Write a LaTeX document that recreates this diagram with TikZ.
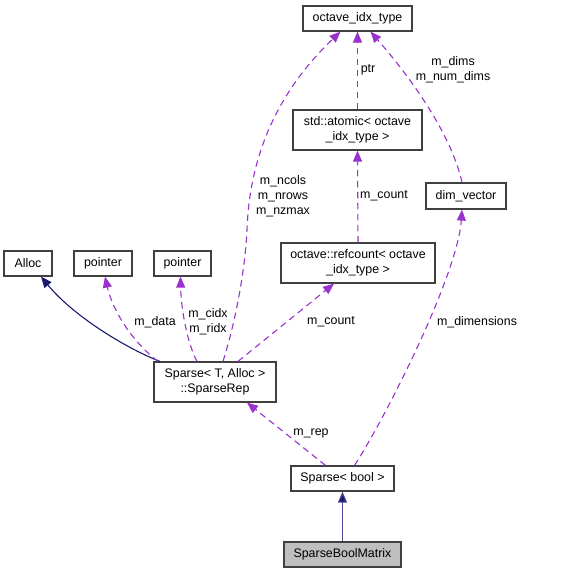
\documentclass[tikz,border=0pt]{standalone}
\usepackage{fontspec}
\setmainfont{Liberation Sans}
\usetikzlibrary{arrows.meta,positioning,calc}
\definecolor{edgepurple}{HTML}{9A32CD}
\definecolor{edgenavy}{HTML}{191970}
\definecolor{edgeslate}{HTML}{4B4B9B}
\definecolor{boxgray}{HTML}{BFBFBF}

\begin{document}
\begin{tikzpicture}[x=1pt,y=-1pt,
                     font=\fontsize{12.4}{15}\selectfont,
                     cls/.style={draw=black!75,line width=1.2pt,fill=white,inner sep=0pt,align=center},
                     usage/.style={draw=edgepurple,line width=1.1pt,dash pattern=on 6.5pt off 4.5pt,
                                   -{Triangle[length=11pt,width=9pt,fill=edgepurple]}},
                     inherit/.style={draw=edgenavy,line width=1.1pt,-{Triangle[length=11pt,width=9pt,fill=edgenavy]}},
                     lbl/.style={align=center,inner sep=0pt}
                    ]
   \useasboundingbox (0,0) rectangle (561,573);
   % classes
   \node[cls,minimum width=109pt,minimum height=25pt] (oit) at (357.5,18.5) {octave\_idx\_type};
   \node[cls,minimum width=129pt,minimum height=40pt] (atomic) at (357.5,130) {std::atomic< octave\\\_idx\_type >};
   \node[cls,minimum width=80pt,minimum height=26pt] (dimvec) at (466,196) {dim\_vector};
   \node[cls,minimum width=154pt,minimum height=40pt] (refcnt) at (358,263) {octave::refcount< octave\\\_idx\_type >};
   \node[cls,minimum width=48pt,minimum height=25pt] (alloc) at (28,263.5) {Alloc};
   \node[cls,minimum width=58pt,minimum height=25pt] (ptra) at (103,263.5) {pointer};
   \node[cls,minimum width=57pt,minimum height=25pt] (ptrb) at (182.5,263.5) {pointer};
   \node[cls,minimum width=122pt,minimum height=40pt] (srep) at (215,382) {Sparse< T, Alloc >\\::SparseRep};
   \node[cls,minimum width=103pt,minimum height=25pt] (sbool) at (342.5,478.5) {Sparse< bool >};
   \node[cls,fill=boxgray,minimum width=117pt,minimum height=25pt] (sbm) at (342.5,554.5) {SparseBoolMatrix};

   % inheritance
   \draw[inherit] ([xshift=-55pt]srep.north) .. controls (130,350) and (75,318) .. ([xshift=13pt]alloc.south);
   \draw[inherit,draw=edgeslate] (sbm.north) -- (sbool.south);

   % members
   \draw[usage] ([xshift=-57pt]srep.north) .. controls (130,340) and (112,308) .. ([xshift=2pt]ptra.south);
   \draw[usage] ([xshift=-18pt]srep.north) .. controls (188,345) and (181,310) .. ([xshift=-2pt]ptrb.south);
   \draw[usage] ([xshift=8pt]srep.north) .. controls (236,320) and (245,270) .. (247,230)
                .. controls (250,140) and (290,80) .. ([xshift=-17pt]oit.south);
   \draw[usage] ([xshift=23pt]srep.north) -- ([xshift=-24pt]refcnt.south);
   \draw[usage] (refcnt.north) -- (atomic.south);
   \draw[usage] (atomic.north) -- (oit.south);
   \draw[usage] ([xshift=-4pt]dimvec.north) .. controls (455,150) and (430,100) .. ([xshift=13pt]oit.south);
   \draw[usage] ([xshift=12pt]sbool.north) .. controls (390,410) and (458,272) .. ([xshift=-4pt]dimvec.south);
   \draw[usage] ([xshift=-17pt]sbool.north) -- ([xshift=32pt]srep.south);

   % member names
   \node[lbl] (ldata) at (155,322) {m\_data};
   \node[lbl] (lidx) at (208,322) {m\_cidx\\m\_ridx};
   \node[lbl] (lsize) at (283,196) {m\_ncols\\m\_nrows\\m\_nzmax};
   \node[lbl] (lcnta) at (331,322) {m\_count};
   \node[lbl] (lcntb) at (384,196) {m\_count};
   \node[lbl] (lptr) at (368,70) {ptr};
   \node[lbl] (ldims) at (453,70) {m\_dims\\m\_num\_dims};
   \node[lbl] (ldimen) at (477,322) {m\_dimensions};
   \node[lbl] (lrep) at (311,433) {m\_rep};
\end{tikzpicture}
\end{document}
